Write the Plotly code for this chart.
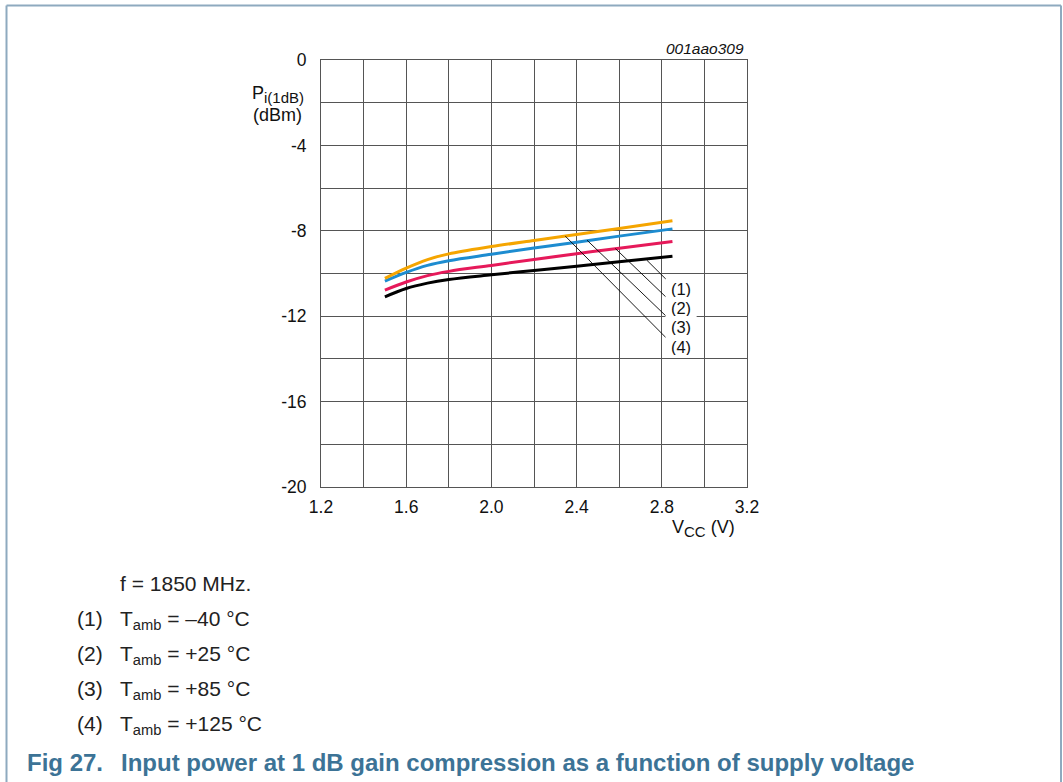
import plotly.graph_objects as go

# ---------------- data ----------------
vcc = [1.5, 1.6, 1.7, 1.8, 2.0, 2.2, 2.4, 2.6, 2.85]
p_m40 = [-11.09, -10.70, -10.45, -10.28, -10.06, -9.86, -9.66, -9.45, -9.19]   # (1) black
p_25 = [-10.78, -10.40, -10.10, -9.90, -9.62, -9.34, -9.07, -8.82, -8.50]      # (2) red
p_85 = [-10.36, -9.95, -9.62, -9.40, -9.10, -8.81, -8.54, -8.25, -7.91]        # (3) blue
p_125 = [-10.23, -9.75, -9.35, -9.08, -8.74, -8.45, -8.17, -7.89, -7.53]       # (4) orange

x_ticks = [1.2, 1.6, 2.0, 2.4, 2.8, 3.2]
x_ticktext = ["1.2", "1.6", "2.0", "2.4", "2.8", "3.2"]
y_ticks = [-20, -16, -12, -8, -4, 0]
y_ticktext = ["-20", "-16", "-12", "-8", "-4", "0"]

curve_labels = ["(1)", "(2)", "(3)", "(4)"]
leader_start_v = [2.730, 2.582, 2.449, 2.347]
leader_start_p = [-9.38, -8.83, -8.44, -8.25]
leader_end_v = [2.832, 2.835, 2.832, 2.824]
leader_end_p = [-10.39, -11.25, -12.11, -13.05]
label_v = [2.888, 2.888, 2.888, 2.888]
label_p = [-10.70, -11.60, -12.47, -13.41]

legend_nums = ["(1)", "(2)", "(3)", "(4)"]
legend_texts = ["T<sub>amb</sub> = \u201340 \u00b0C", "T<sub>amb</sub> = +25 \u00b0C",
                "T<sub>amb</sub> = +85 \u00b0C", "T<sub>amb</sub> = +125 \u00b0C"]

# ---------------- layout geometry ----------------
W, H = 1063, 782
L, R, T, B = 321, 316, 60, 295
PW, PH = W - L - R, H - T - B

def xp(px):
    return (px - L) / PW

def yp(py):
    return (H - B - py) / PH

FONT = "Liberation Sans, Arial, sans-serif"
GRID = "#555555"

fig = go.Figure()
colors = ["#000000", "#e6195a", "#1d8cd0", "#f5a500"]
series = [p_m40, p_25, p_85, p_125]
for ys, c in zip(series, colors):
    fig.add_trace(go.Scatter(x=vcc, y=ys, mode="lines",
                             line=dict(color=c, width=3, shape="spline", smoothing=1.0),
                             showlegend=False, hoverinfo="skip"))

shapes = []
for x0, y0, x1, y1 in zip(leader_start_v, leader_start_p, leader_end_v, leader_end_p):
    shapes.append(dict(type="line", xref="x", yref="y", x0=x0, y0=y0, x1=x1, y1=y1,
                       line=dict(color="#000000", width=0.9), layer="above"))

# page frame
FR = "#8eaabf"
shapes.append(dict(type="line", xref="paper", yref="paper", x0=xp(6.5), x1=xp(1061), y0=yp(5.5), y1=yp(5.5),
                   line=dict(color=FR, width=2)))
shapes.append(dict(type="line", xref="paper", yref="paper", x0=xp(6.5), x1=xp(6.5), y0=yp(5.5), y1=yp(790),
                   line=dict(color=FR, width=2)))
shapes.append(dict(type="line", xref="paper", yref="paper", x0=xp(1061), x1=xp(1061), y0=yp(5.5), y1=yp(790),
                   line=dict(color=FR, width=2)))

ann = []
for t, vx, vy in zip(curve_labels, label_v, label_p):
    ann.append(dict(x=vx, y=vy, xref="x", yref="y", text=t, showarrow=False,
                    font=dict(family=FONT, size=16.5, color="#111"), bgcolor="white",
                    width=28, height=17, borderpad=1, xanchor="center", yanchor="middle"))

ann.append(dict(x=xp(746), y=yp(49), xref="paper", yref="paper", text="<i>001aao309</i>",
                showarrow=False, xanchor="right", yanchor="middle",
                font=dict(family=FONT, size=15.5, color="#111")))
ann.append(dict(x=xp(306), y=yp(94), xref="paper", yref="paper",
                text="P<sub><span style='font-size:15px'>i(1dB)</span></sub>",
                showarrow=False, xanchor="right", yanchor="middle",
                font=dict(family=FONT, size=18, color="#111")))
ann.append(dict(x=xp(304), y=yp(115), xref="paper", yref="paper", text="(dBm)",
                showarrow=False, xanchor="right", yanchor="middle",
                font=dict(family=FONT, size=18, color="#111")))
ann.append(dict(x=xp(737), y=yp(528), xref="paper", yref="paper",
                text="V<sub><span style='font-size:15px'>CC</span></sub> (V)",
                showarrow=False, xanchor="right", yanchor="middle",
                font=dict(family=FONT, size=18, color="#111")))

CAP = 21
ann.append(dict(x=xp(118), y=yp(583), xref="paper", yref="paper", text="f = 1850 MHz.",
                showarrow=False, xanchor="left", yanchor="middle",
                font=dict(family=FONT, size=CAP, color="#222")))
row_y = [620, 655, 690, 725]
for n, t, ry in zip(legend_nums, legend_texts, row_y):
    ann.append(dict(x=xp(75), y=yp(ry - 2), xref="paper", yref="paper", text=n,
                    showarrow=False, xanchor="left", yanchor="middle",
                    font=dict(family=FONT, size=CAP, color="#222")))
    ann.append(dict(x=xp(118), y=yp(ry), xref="paper", yref="paper", text=t,
                    showarrow=False, xanchor="left", yanchor="middle",
                    font=dict(family=FONT, size=CAP, color="#222")))

TC = "#3c7396"
ann.append(dict(x=xp(25), y=yp(762), xref="paper", yref="paper", text="<b>Fig 27.</b>",
                showarrow=False, xanchor="left", yanchor="middle",
                font=dict(family=FONT, size=24, color=TC)))
ann.append(dict(x=xp(119), y=yp(762), xref="paper", yref="paper",
                text="<b>Input power at 1 dB gain compression as a function of supply voltage</b>",
                showarrow=False, xanchor="left", yanchor="middle",
                font=dict(family=FONT, size=24, color=TC)))

fig.update_layout(
    width=W, height=H, autosize=False,
    margin=dict(l=L, r=R, t=T, b=B, pad=0),
    paper_bgcolor="white", plot_bgcolor="white",
    shapes=shapes, annotations=ann,
    font=dict(family=FONT, size=17.5, color="#111"),
    xaxis=dict(range=[1.2, 3.2], tickvals=x_ticks, ticktext=x_ticktext, ticks="",
               showgrid=True, gridcolor=GRID, gridwidth=1, zeroline=False,
               showline=True, mirror=True, linecolor=GRID, linewidth=1,
               minor=dict(dtick=0.2, tick0=1.2, showgrid=True, gridcolor=GRID, gridwidth=1),
               ticklabelstandoff=4, tickfont=dict(size=17.5)),
    yaxis=dict(range=[-20, 0], tickvals=y_ticks, ticktext=y_ticktext, ticks="",
               showgrid=True, gridcolor=GRID, gridwidth=1, zeroline=False,
               showline=True, mirror=True, linecolor=GRID, linewidth=1,
               minor=dict(dtick=2, tick0=0, showgrid=True, gridcolor=GRID, gridwidth=1),
               ticklabelstandoff=10, tickfont=dict(size=17.5)),
)

fig.write_html("out.html", config={"displayModeBar": False},
               post_script="document.body.style.margin='0px';document.body.style.overflow='hidden';")
